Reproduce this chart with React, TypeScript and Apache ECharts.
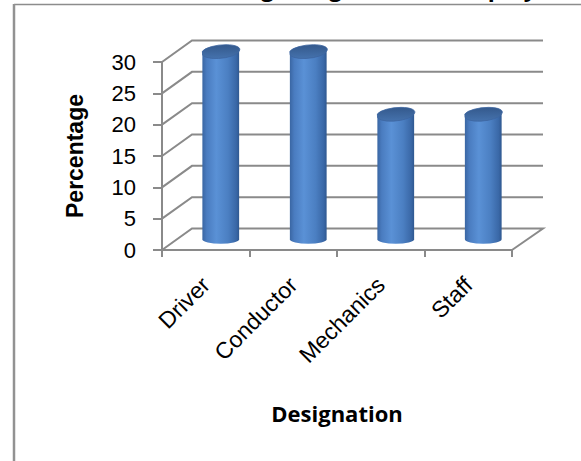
import React, { useEffect, useRef } from "react";
import * as echarts from "echarts";

const categories = ["Driver", "Conductor", "Mechanics", "Staff"];
const percentages = [30, 30, 20, 20];
const yTicks = [0, 5, 10, 15, 20, 25, 30];
const titleText = "Chart Showing Designation of Employees";
const xAxisName = "Designation";
const yAxisName = "Percentage";

const DX = 30;
const DY = 21.5;
const GRAY = "#8a8a8a";

export default function App() {
  const ref = useRef<HTMLDivElement>(null);

  useEffect(() => {
    const chart = echarts.init(ref.current!, null, { renderer: "svg" });

    const wallSeries = {
      type: "custom",
      coordinateSystem: "cartesian2d",
      clip: false,
      silent: true,
      z: 1,
      data: yTicks.map((v) => [0, v]),
      encode: { x: 0, y: 1 },
      renderItem: (params: any, api: any) => {
        const v = api.value(1);
        const y = api.coord([0, v])[1];
        const cs = params.coordSys;
        const x0 = cs.x;
        const W = cs.width;
        const pts =
          v === 0
            ? [
                [x0, y],
                [x0 + DX, y - DY],
                [x0 + W + DX + 1, y - DY],
                [x0 + W, y],
              ]
            : [
                [x0, y],
                [x0 + DX, y - DY],
                [x0 + W + DX + 1, y - DY],
              ];
        return {
          type: "polyline",
          shape: { points: pts },
          style: { stroke: GRAY, lineWidth: 2, fill: null },
        };
      },
    };

    const cylSeries = {
      type: "custom",
      coordinateSystem: "cartesian2d",
      clip: false,
      z: 3,
      data: percentages.map((v, i) => [i, v]),
      encode: { x: 0, y: 1 },
      renderItem: (params: any, api: any) => {
        const i = api.value(0);
        const v = api.value(1);
        const top = api.coord([i, v]);
        const base = api.coord([i, 0]);
        const band = api.size([1, 0])[0];
        const cx = top[0] + DX / 2;
        const rx = band * 0.21;
        const tY = top[1] - DY / 2;
        const bY = base[1] - DY / 2;
        const ryB = 4.5;
        const ryT = 6;
        const L = cx - rx;
        const R = cx + rx;
        const body = `M ${L} ${tY} L ${L} ${bY} A ${rx} ${ryB} 0 0 0 ${R} ${bY} L ${R} ${tY} Z`;
        const th = (-6 * Math.PI) / 180;
        const p1x = cx - rx * Math.cos(th);
        const p1y = tY - rx * Math.sin(th);
        const p2x = cx + rx * Math.cos(th);
        const p2y = tY + rx * Math.sin(th);
        const cap = `M ${p1x} ${p1y} A ${rx} ${ryT} -6 1 0 ${p2x} ${p2y} A ${rx} ${ryT} -6 1 0 ${p1x} ${p1y} Z`;
        return {
          type: "group",
          children: [
            {
              type: "path",
              shape: { pathData: body },
              style: {
                fill: new echarts.graphic.LinearGradient(0, 0, 1, 0, [
                  { offset: 0, color: "#3a66a3" },
                  { offset: 0.12, color: "#4a7cc0" },
                  { offset: 0.38, color: "#5a91d6" },
                  { offset: 0.7, color: "#4b7fc2" },
                  { offset: 0.92, color: "#3a68a7" },
                  { offset: 1, color: "#2f5890" },
                ]),
                stroke: null,
              },
            },
            {
              type: "path",
              shape: { pathData: cap },
              style: {
                fill: new echarts.graphic.LinearGradient(0, 0, 0, 1, [
                  { offset: 0, color: "#34598c" },
                  { offset: 1, color: "#4572ad" },
                ]),
                stroke: "#3c65a0",
                lineWidth: 0.8,
              },
            },
          ],
        };
      },
    };

    const option = {
      animation: false,
      backgroundColor: "#ffffff",
      grid: { left: 162, top: 62, width: 350, height: 188 },
      xAxis: {
        type: "category",
        data: categories,
        boundaryGap: true,
        name: xAxisName,
        nameLocation: "middle",
        nameGap: 152,
        nameTextStyle: {
          fontFamily: "Open Sans",
          fontWeight: "bold",
          fontSize: 22,
          color: "#000",
        },
        axisLine: { show: true, lineStyle: { color: GRAY, width: 2 } },
        axisTick: {
          show: true,
          alignWithLabel: false,
          interval: 0,
          length: 7,
          lineStyle: { color: GRAY, width: 2 },
        },
        axisLabel: {
          interval: 0,
          rotate: 45,
          margin: 31,
          fontSize: 23,
          fontFamily: "Liberation Sans",
          color: "#000",
        },
        splitLine: { show: false },
      },
      yAxis: {
        type: "value",
        min: 0,
        max: 30,
        interval: 5,
        name: yAxisName,
        nameLocation: "middle",
        nameRotate: 90,
        nameGap: 76,
        nameTextStyle: {
          fontFamily: "Liberation Sans",
          fontWeight: "bold",
          fontSize: 23,
          color: "#000",
        },
        axisLine: { show: true, lineStyle: { color: GRAY, width: 2 } },
        axisTick: { show: true, length: 9, lineStyle: { color: GRAY, width: 2 } },
        axisLabel: {
          margin: 26,
          fontSize: 22,
          fontFamily: "Liberation Sans",
          color: "#000",
        },
        splitLine: { show: false },
      },
      graphic: [
        {
          type: "line",
          shape: { x1: 14, y1: 4.5, x2: 581, y2: 4.5 },
          style: { stroke: "#8c8c8c", lineWidth: 1.5 },
          z: 10,
        },
        {
          type: "line",
          shape: { x1: 14, y1: 4, x2: 14, y2: 461 },
          style: { stroke: "#929292", lineWidth: 2.5 },
          z: 10,
        },
        {
          type: "text",
          x: 107,
          y: -13,
          z: 11,
          style: {
            text: titleText,
            font: "bold 23px 'Open Sans'",
            fill: "#000",
            textAlign: "left",
            textVerticalAlign: "middle",
          },
        },
      ],
      series: [wallSeries, cylSeries],
    };

    chart.setOption(option as any);
    return () => chart.dispose();
  }, []);

  return (
    <div
      ref={ref}
      style={{
        position: "fixed",
        left: 0,
        top: 0,
        width: 581,
        height: 461,
        background: "#fff",
      }}
    />
  );
}
